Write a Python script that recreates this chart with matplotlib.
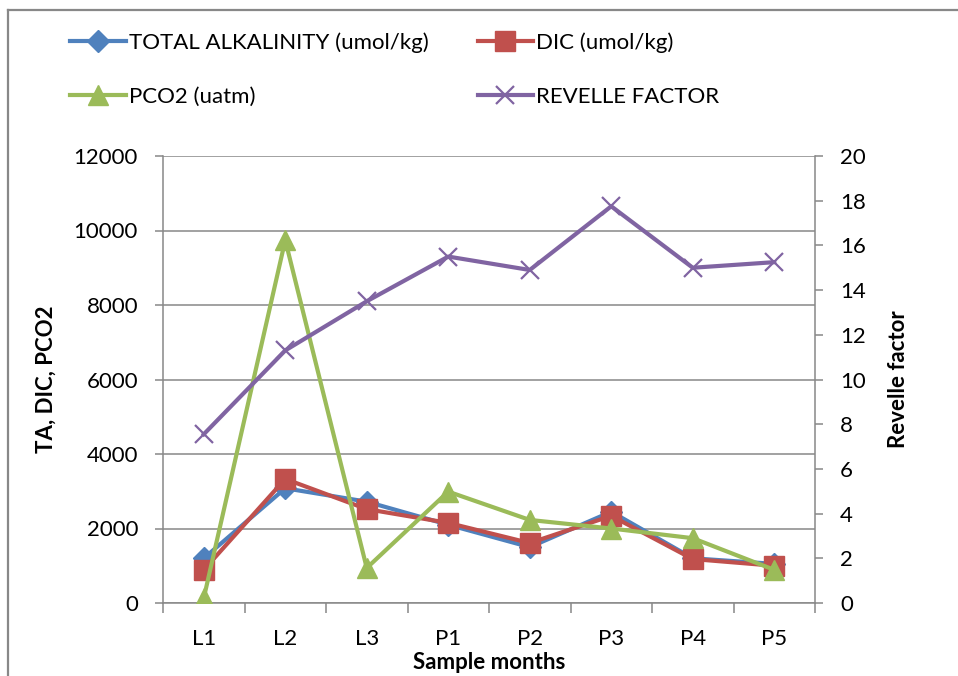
import numpy as np
import matplotlib.pyplot as plt
from matplotlib.lines import Line2D
from matplotlib.ticker import FixedLocator, NullFormatter

plt.rcParams['font.family'] = ['Lato', 'DejaVu Sans']

months = ['L1', 'L2', 'L3', 'P1', 'P2', 'P3', 'P4', 'P5']
total_alk = [1200, 3080, 2720, 2100, 1500, 2450, 1200, 1050]
dic = [890, 3330, 2520, 2150, 1610, 2340, 1180, 1000]
pco2 = [130, 9740, 940, 2990, 2230, 2000, 1740, 890]
revelle = [7.55, 11.3, 13.5, 15.5, 14.9, 17.75, 15.0, 15.25]

blue = '#4F81BD'
red = '#C0504D'
green = '#9BBB59'
purple = '#8064A2'
grid_c = '#888888'
fs = 16

fig = plt.figure(figsize=(9.58, 6.76), dpi=100)
ax = fig.add_axes([163/958, 1-603/676, (815-163)/958, (603-156)/676])
ax2 = ax.twinx()

x = np.arange(len(months))
h1, = ax.plot(x, total_alk, color=blue, lw=3, marker='D', ms=11, zorder=3,
              label='TOTAL ALKALINITY (umol/kg)')
h2, = ax.plot(x, dic, color=red, lw=3, marker='s', ms=14, zorder=4,
              label='DIC (umol/kg)')
h3, = ax.plot(x, pco2, color=green, lw=3, marker='^', ms=15, zorder=5,
              label='PCO2 (uatm)')
h4, = ax2.plot(x, revelle, color=purple, lw=3, marker='x', ms=13, mew=1.6,
               label='REVELLE FACTOR')

ax.set_xlim(-0.5, len(months) - 0.5)
ax.set_ylim(0, 12000)
ax2.set_ylim(0, 20)
ax.set_yticks(np.arange(0, 12001, 2000))
ax2.set_yticks(np.arange(0, 21, 2))
ax.set_xticks(x)
ax.set_xticklabels(months)
ax.xaxis.set_minor_locator(FixedLocator(np.arange(-0.5, len(months), 1.0)))
ax.xaxis.set_minor_formatter(NullFormatter())

ax.grid(axis='y', color=grid_c, lw=1.1, zorder=0)
ax.set_axisbelow(True)

for a in (ax, ax2):
    for s in a.spines.values():
        s.set_visible(False)
        s.set_color(grid_c)
        s.set_linewidth(1.1)
ax.spines['left'].set_visible(True)
ax.spines['bottom'].set_visible(True)
ax2.spines['right'].set_visible(True)

ax.tick_params(axis='x', which='major', length=0, pad=19, labelsize=fs)
ax.tick_params(axis='x', which='minor', length=7, width=1.1, color=grid_c, direction='out')
ax.tick_params(axis='y', length=6, width=1.1, color=grid_c, pad=12, labelsize=fs)
ax2.tick_params(axis='y', length=6, width=1.1, color=grid_c, pad=12, labelsize=fs)

ax.set_ylabel('TA, DIC, PCO2', fontsize=fs, fontweight='bold', labelpad=12)
ax2.set_ylabel('Revelle factor', fontsize=fs, fontweight='bold', labelpad=16)
ax.set_xlabel('Sample months', fontsize=fs, fontweight='bold', labelpad=2)

# row-major order as in the reference legend
fig.legend(handles=[h1, h3, h2, h4], loc='upper left', bbox_to_anchor=(50/958, 1-12/676),
           ncol=2, frameon=False, fontsize=fs, handlelength=2.5, handletextpad=0.15,
           columnspacing=2.2, labelspacing=1.55)

# chart frame
fig.add_artist(Line2D([8/958, 8/958], [0, 1-10/676], transform=fig.transFigure,
                      color=grid_c, lw=1.6))
fig.add_artist(Line2D([8/958, 1], [1-10/676, 1-10/676], transform=fig.transFigure,
                      color=grid_c, lw=1.6))

fig.savefig('out.png', dpi=100)
